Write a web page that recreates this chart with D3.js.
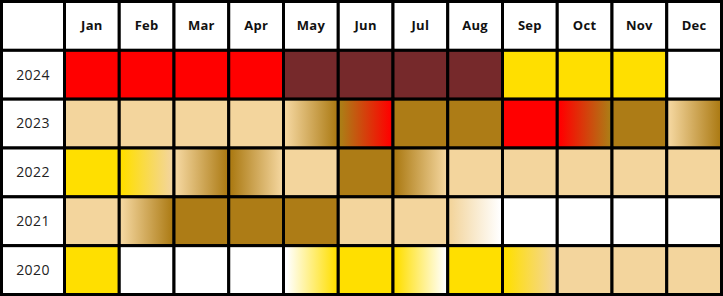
<html>
<head>
	<meta charset="utf-8">
	<title>Monthly grid</title>
	<script src="https://cdn.jsdelivr.net/npm/d3@7/dist/d3.min.js"></script>
	<style>
		body, html { margin: 0; overflow: hidden; background: #fff; }
		.month { font-family: "Open Sans", sans-serif; font-weight: 700; font-size: 13px; fill: #111; letter-spacing: 0.3px; }
		.year { font-family: "Open Sans", sans-serif; font-weight: 400; font-size: 14px; fill: #222; letter-spacing: 0.4px; }
		.cell { stroke: #000; stroke-width: 3; }
	</style>
</head>
<body>
	<div id="chart"></div>
<script>
	// width and height
	var w = 723;
	var h = 296;

	var months = ["Jan", "Feb", "Mar", "Apr", "May", "Jun", "Jul", "Aug", "Sep", "Oct", "Nov", "Dec"];
	var years = ["2024", "2023", "2022", "2021", "2020"];

	// status codes per month, "A>B" means a blend from A into B
	var y2024 = ["R", "R", "R", "R", "M", "M", "M", "M", "Y", "Y", "Y", "W"];
	var y2023 = ["T", "T", "T", "T", "T>G", "G>R", "G", "G", "R", "R>G", "G", "T>G"];
	var y2022 = ["Y", "Y>T", "T>G", "G>T", "T", "G", "G>T", "T", "T", "T", "T", "T"];
	var y2021 = ["T", "T>G", "G", "G", "G", "T", "T", "T>W", "W", "W", "W", "W"];
	var y2020 = ["Y", "W", "W", "W", "W>Y", "Y", "Y>W", "Y", "Y>T", "T", "T", "T"];
	var rowsData = [y2024, y2023, y2022, y2021, y2020];

	var palette = {
		R: "#ff0000",
		M: "#76292b",
		Y: "#ffdf00",
		T: "#f3d59d",
		G: "#ad7c16",
		W: "#ffffff"
	};

	var svg = d3.select("#chart").append("svg")
		.attr("width", w)
		.attr("height", h);

	var defs = svg.append("defs");

	// columns: label column + months
	var x = d3.scaleBand().domain(months).range([64.5, 721.5]);
	var y = d3.scaleBand().domain(["head"].concat(years)).range([1.5, 294.5]);
	var labelX0 = 1.5;

	// header cells
	svg.append("rect")
		.attr("class", "cell")
		.attr("x", labelX0).attr("y", y("head"))
		.attr("width", x.range()[0] - labelX0).attr("height", y.bandwidth())
		.attr("fill", "#fff");

	svg.selectAll(".mhead").data(months).enter().append("rect")
		.attr("class", "cell mhead")
		.attr("x", function (d) { return x(d); })
		.attr("y", y("head"))
		.attr("width", x.bandwidth())
		.attr("height", y.bandwidth())
		.attr("fill", "#fff");

	svg.selectAll(".month").data(months).enter().append("text")
		.attr("class", "month")
		.attr("x", function (d) { return x(d) + x.bandwidth() / 2; })
		.attr("y", y("head") + y.bandwidth() / 2)
		.attr("text-anchor", "middle")
		.attr("dy", "0.35em")
		.text(function (d) { return d; });

	// build cells
	var cells = [];
	years.forEach(function (yr, i) {
		rowsData[i].forEach(function (code, j) {
			cells.push({ year: yr, month: months[j], code: code, id: "g" + yr + "_" + j });
		});
	});

	var grads = cells.filter(function (d) { return d.code.indexOf(">") > -1; });
	var lg = defs.selectAll("linearGradient").data(grads).enter().append("linearGradient")
		.attr("id", function (d) { return d.id; })
		.attr("x1", "0%").attr("x2", "100%").attr("y1", "0%").attr("y2", "0%");
	lg.append("stop").attr("offset", "6%")
		.attr("stop-color", function (d) { return palette[d.code.split(">")[0]]; });
	lg.append("stop").attr("offset", "96%")
		.attr("stop-color", function (d) { return palette[d.code.split(">")[1]]; });

	// year label cells
	svg.selectAll(".ycell").data(years).enter().append("rect")
		.attr("class", "cell ycell")
		.attr("x", labelX0)
		.attr("y", function (d) { return y(d); })
		.attr("width", x.range()[0] - labelX0)
		.attr("height", y.bandwidth())
		.attr("fill", "#fff");

	svg.selectAll(".year").data(years).enter().append("text")
		.attr("class", "year")
		.attr("x", (labelX0 + x.range()[0]) / 2)
		.attr("y", function (d) { return y(d) + y.bandwidth() / 2; })
		.attr("text-anchor", "middle")
		.attr("dy", "0.35em")
		.text(function (d) { return d; });

	svg.selectAll(".mcell").data(cells).enter().append("rect")
		.attr("class", "cell mcell")
		.attr("x", function (d) { return x(d.month); })
		.attr("y", function (d) { return y(d.year); })
		.attr("width", x.bandwidth())
		.attr("height", y.bandwidth())
		.attr("fill", function (d) {
			return d.code.indexOf(">") > -1 ? "url(#" + d.id + ")" : palette[d.code];
		});
</script>
</body>
</html>
